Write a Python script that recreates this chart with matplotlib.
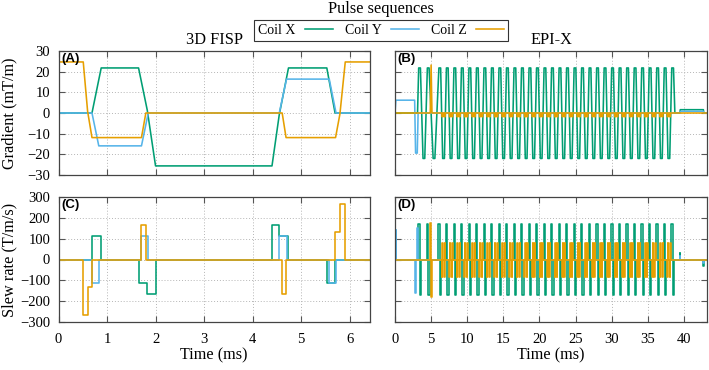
import matplotlib
matplotlib.use('Agg')
import matplotlib.pyplot as plt
from matplotlib.lines import Line2D

plt.rcParams['font.family'] = ['Liberation Serif', 'DejaVu Serif']

c_x, c_y, c_z = '#009e73', '#56b4e9', '#e69f00'
coil_labels = ['Coil X', 'Coil Y', 'Coil Z']

# --- 3D FISP gradients (mT/m), piecewise linear vertices, time in ms
fisp_x_t = [0, 0.69, 0.88, 1.65, 1.83, 2.00, 4.40, 4.55, 4.74, 5.53, 5.70, 6.42]
fisp_x_g = [0, 0, 21.8, 21.8, 1.3, -25.6, -25.6, -0.8, 21.8, 21.8, 0, 0]
fisp_y_t = [0, 0.69, 0.83, 1.71, 1.85, 4.55, 4.70, 5.58, 5.72, 6.42]
fisp_y_g = [0, 0, -15.9, -15.9, 0, 0, 16.4, 16.4, 0, 0]
fisp_z_t = [0, 0.51, 0.60, 0.69, 1.71, 1.80, 4.61, 4.69, 5.71, 5.80, 5.91, 6.42]
fisp_z_g = [24.7, 24.7, 0.8, -11.9, -11.9, 0, 0, -11.9, -11.9, -0.5, 24.7, 24.7]

# --- 3D FISP slew rates (T/m/s), step values starting at each time
fisp_x_st = [0, 0.69, 0.88, 1.65, 1.83, 2.00, 4.40, 4.55, 4.74, 5.53, 5.70, 6.42]
fisp_x_s = [0, 115, 0, -115, -165, 0, 165, 115, 0, -115, 0, 0]
fisp_y_st = [0, 0.69, 0.83, 1.71, 1.85, 4.55, 4.70, 5.58, 5.72, 6.42]
fisp_y_s = [0, -115, 0, 115, 0, 115, 0, -115, 0, 0]
fisp_z_st = [0, 0.50, 0.60, 0.69, 1.70, 1.80, 4.61, 4.69, 5.70, 5.80, 5.91, 6.42]
fisp_z_s = [0, -265, -130, 0, 165, 0, -165, 0, 130, 265, 0, 0]

# --- EPI-X readout lobes (ms)
epi_tops = [3.40, 4.60, 6.20, 7.24, 8.28, 9.32, 10.36, 11.40, 12.44, 13.48,
            14.52, 15.56, 16.60, 17.64, 18.68, 19.72, 20.76, 21.80, 22.84,
            23.88, 24.92, 25.96, 27.00, 28.04, 29.08, 30.12, 31.16, 32.20,
            33.24, 34.28, 35.32, 36.36, 37.40, 38.44]
epi_bottoms = [4.00, 5.40, 6.72, 7.76, 8.80, 9.84, 10.88, 11.92, 12.96, 14.00,
               15.04, 16.08, 17.12, 18.16, 19.20, 20.24, 21.28, 22.32, 23.36,
               24.40, 25.44, 26.48, 27.52, 28.56, 29.60, 30.64, 31.68, 32.72,
               33.76, 34.80, 35.84, 36.88, 37.92]
epi_top_g, epi_bot_g = 21.8, -22.0
epi_top_s, epi_bot_s = 170, -172
epi_x_tail_t = [38.75, 39.45, 39.50, 42.70, 42.75, 43.2]
epi_x_tail_g = [0, 0, 1.6, 1.6, 0, 0]
epi_x_tail_st = [39.45, 39.50, 42.70, 42.75, 43.2]
epi_x_tail_s = [30, 0, -30, 0, 0]

epi_y_t = [0, 0.12, 2.72, 2.85, 3.08, 3.20, 39.45, 39.50, 42.70, 42.75, 43.2]
epi_y_g = [0, 6.2, 6.2, -19.4, -19.4, 0, 0, 0.8, 0.8, 0, 0]
epi_y_st = [0, 0.12, 0.18, 2.72, 2.85, 3.08, 3.20, 39.45, 39.50, 42.70, 42.75, 43.2]
epi_y_s = [0, 140, 0, -160, 0, 150, 0, 16, 0, -16, 0, 0]

epi_z_t = [0, 4.88, 5.00, 5.12]
epi_z_g = [0, 0, 23.2, 0]
epi_z_st = [0, 4.88, 5.00, 5.12]
epi_z_s = [0, 175, -180, 0]
blip_g, blip_s_neg, blip_s_pos = -1.8, -83, 80
blip_offsets = [0.36, 0.68]

# build EPI traces from the lobe lists
lobes = sorted([(t, epi_top_g) for t in epi_tops] + [(t, epi_bot_g) for t in epi_bottoms])
ex_t, ex_g = [0, 3.12], [0, 0]
for t, a in lobes:
    ex_t += [t - 0.12, t + 0.12]
    ex_g += [a, a]
ex_t += epi_x_tail_t
ex_g += epi_x_tail_g

exs_t, exs_s = [0], [0]
for t in epi_tops:
    exs_t += [t - 0.18, t, t + 0.18]
    exs_s += [epi_top_s, epi_bot_s, 0]
exs_t += epi_x_tail_st
exs_s += epi_x_tail_s

ez_t, ez_g = list(epi_z_t), list(epi_z_g)
ezs_t, ezs_s = list(epi_z_st), list(epi_z_s)
for tc in epi_tops[2:-1]:
    for off in blip_offsets:
        b = tc + off
        ez_t += [b - 0.07, b - 0.05, b + 0.05, b + 0.07]
        ez_g += [0, blip_g, blip_g, 0]
        ezs_t += [b - 0.07, b, b + 0.07]
        ezs_s += [blip_s_neg, blip_s_pos, 0]
ez_t += [43.2]
ez_g += [0]
ezs_t += [43.2]
ezs_s += [0]

W, H = 709, 370
fig = plt.figure(figsize=(W / 100, H / 100), dpi=100)


def add_ax(l, r, t, b):
    return fig.add_axes([l / W, 1 - b / H, (r - l) / W, (b - t) / H])


def style(ax, xlim, ylim, xticks, yticks, label):
    ax.set_xlim(*xlim)
    ax.set_ylim(*ylim)
    ax.set_xticks(xticks)
    ax.set_yticks(yticks)
    ax.grid(True, linestyle=(0, (1, 2)), color='#b5b5b5', lw=0.7)
    ax.set_axisbelow(True)
    ax.tick_params(direction='in', top=True, right=True, length=4.5, width=0.8,
                   color='#555555', labelsize=10.5)
    ax.tick_params(axis='x', pad=8)
    ax.tick_params(axis='y', pad=6)
    for sp in ax.spines.values():
        sp.set_color('#444444')
        sp.set_linewidth(0.9)
    ax.text(0.008, 0.985, label, transform=ax.transAxes, ha='left', va='top',
            fontsize=9.5, fontweight='bold', family=['Liberation Sans', 'DejaVu Sans'])


lw = 1.15
axA = add_ax(58.5, 370, 51, 175)
axC = add_ax(58.5, 370, 197, 322)
axB = add_ax(395, 707, 51, 175)
axD = add_ax(395, 707, 197, 322)

axA.plot(fisp_x_t, fisp_x_g, color=c_x, lw=lw)
axA.plot(fisp_y_t, fisp_y_g, color=c_y, lw=lw)
axA.plot(fisp_z_t, fisp_z_g, color=c_z, lw=lw)
style(axA, (0, 6.42), (-30, 30), range(0, 7), range(-30, 31, 10), '(A)')
axA.tick_params(labelbottom=False)
axA.set_title('3D FISP', fontsize=11.7, pad=5)

axC.step(fisp_x_st, fisp_x_s, where='post', color=c_x, lw=lw)
axC.step(fisp_y_st, fisp_y_s, where='post', color=c_y, lw=lw)
axC.step(fisp_z_st, fisp_z_s, where='post', color=c_z, lw=lw)
style(axC, (0, 6.42), (-300, 300), range(0, 7), range(-300, 301, 100), '(C)')
axC.set_xlabel('Time (ms)', fontsize=11.7)
axC.xaxis.set_label_coords(0.5, -0.2)

axB.plot(ex_t, ex_g, color=c_x, lw=lw)
axB.plot(epi_y_t, epi_y_g, color=c_y, lw=lw)
axB.plot(ez_t, ez_g, color=c_z, lw=lw)
style(axB, (0, 43.2), (-30, 30), range(0, 41, 5), range(-30, 31, 10), '(B)')
axB.tick_params(labelbottom=False, labelleft=False)
axB.set_title('EPI-X', fontsize=11.7, pad=5)

axD.step(exs_t, exs_s, where='post', color=c_x, lw=lw)
axD.step(epi_y_st, epi_y_s, where='post', color=c_y, lw=lw)
axD.step(ezs_t, ezs_s, where='post', color=c_z, lw=lw)
style(axD, (0, 43.2), (-300, 300), range(0, 41, 5), range(-300, 301, 100), '(D)')
axD.tick_params(labelleft=False)
axD.set_xlabel('Time (ms)', fontsize=11.7)
axD.xaxis.set_label_coords(0.5, -0.2)

fig.text(9 / W, 1 - 113 / H, 'Gradient (mT/m)', rotation=90, ha='center', va='center', fontsize=11.7)
fig.text(9 / W, 1 - 259.5 / H, 'Slew rate (T/m/s)', rotation=90, ha='center', va='center', fontsize=11.7)
fig.text(380.5 / W, 1 - 9 / H, 'Pulse sequences', ha='center', va='center', fontsize=11.7)

handles = [Line2D([], [], color=c, lw=lw) for c in (c_x, c_y, c_z)]
leg = fig.legend(handles, coil_labels, loc='center', bbox_to_anchor=(381 / W, 1 - 30.5 / H),
                 ncol=3, markerfirst=False, fancybox=False, edgecolor='#333333',
                 fontsize=10, handlelength=2.0, borderpad=0.3, columnspacing=0.85,
                 handletextpad=0.7, framealpha=1)
leg.get_frame().set_linewidth(0.8)

fig.savefig('out.png', dpi=100)
